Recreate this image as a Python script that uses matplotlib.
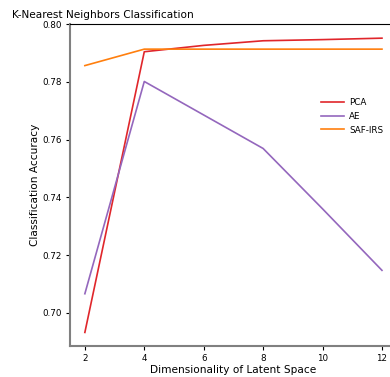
import matplotlib.pyplot as plt

dims = [2, 4, 6, 8, 10, 12]
pca_acc = [0.6932, 0.7904, 0.7926, 0.7942, 0.7946, 0.7951]
ae_acc = [0.7066, 0.7801, 0.7685, 0.7569, 0.7360, 0.7147]
saf_acc = [0.7856, 0.7913, 0.7913, 0.7913, 0.7913, 0.7913]

fig = plt.figure(figsize=(3.9, 3.77), dpi=100)
ax = fig.add_axes([0.1795, 0.0822, 0.838, 0.8541])

ax.plot(dims, pca_acc, color='#e0262b', lw=1.2, label='PCA')
ax.plot(dims, ae_acc, color='#9467bd', lw=1.2, label='AE')
ax.plot(dims, saf_acc, color='#ff7f0e', lw=1.2, label='SAF-IRS')

ax.set_xlim(1.5, 12.5)
ax.set_ylim(0.6885, 0.80)
ax.set_xticks([2, 4, 6, 8, 10, 12])
ax.set_yticks([0.70, 0.72, 0.74, 0.76, 0.78, 0.80])
ax.tick_params(labelsize=6.3, length=3, width=0.8, pad=3)

ax.spines['left'].set_color('#808080')
ax.spines['left'].set_linewidth(1.5)
ax.spines['bottom'].set_color('#808080')
ax.spines['bottom'].set_linewidth(1.5)
ax.spines['top'].set_linewidth(0.8)

ax.set_xlabel('Dimensionality of Latent Space', fontsize=7.6, labelpad=1)
ax.set_ylabel('Classification Accuracy', fontsize=7.6, labelpad=1.5)
fig.text(0.031, 0.952, 'K-Nearest Neighbors Classification', fontsize=7.6)

ax.legend(loc='upper left', bbox_to_anchor=(0.745, 0.795), frameon=False,
          fontsize=6.3, handlelength=2.6, handletextpad=0.6, labelspacing=0.55)

fig.savefig('out.png', dpi=100)
